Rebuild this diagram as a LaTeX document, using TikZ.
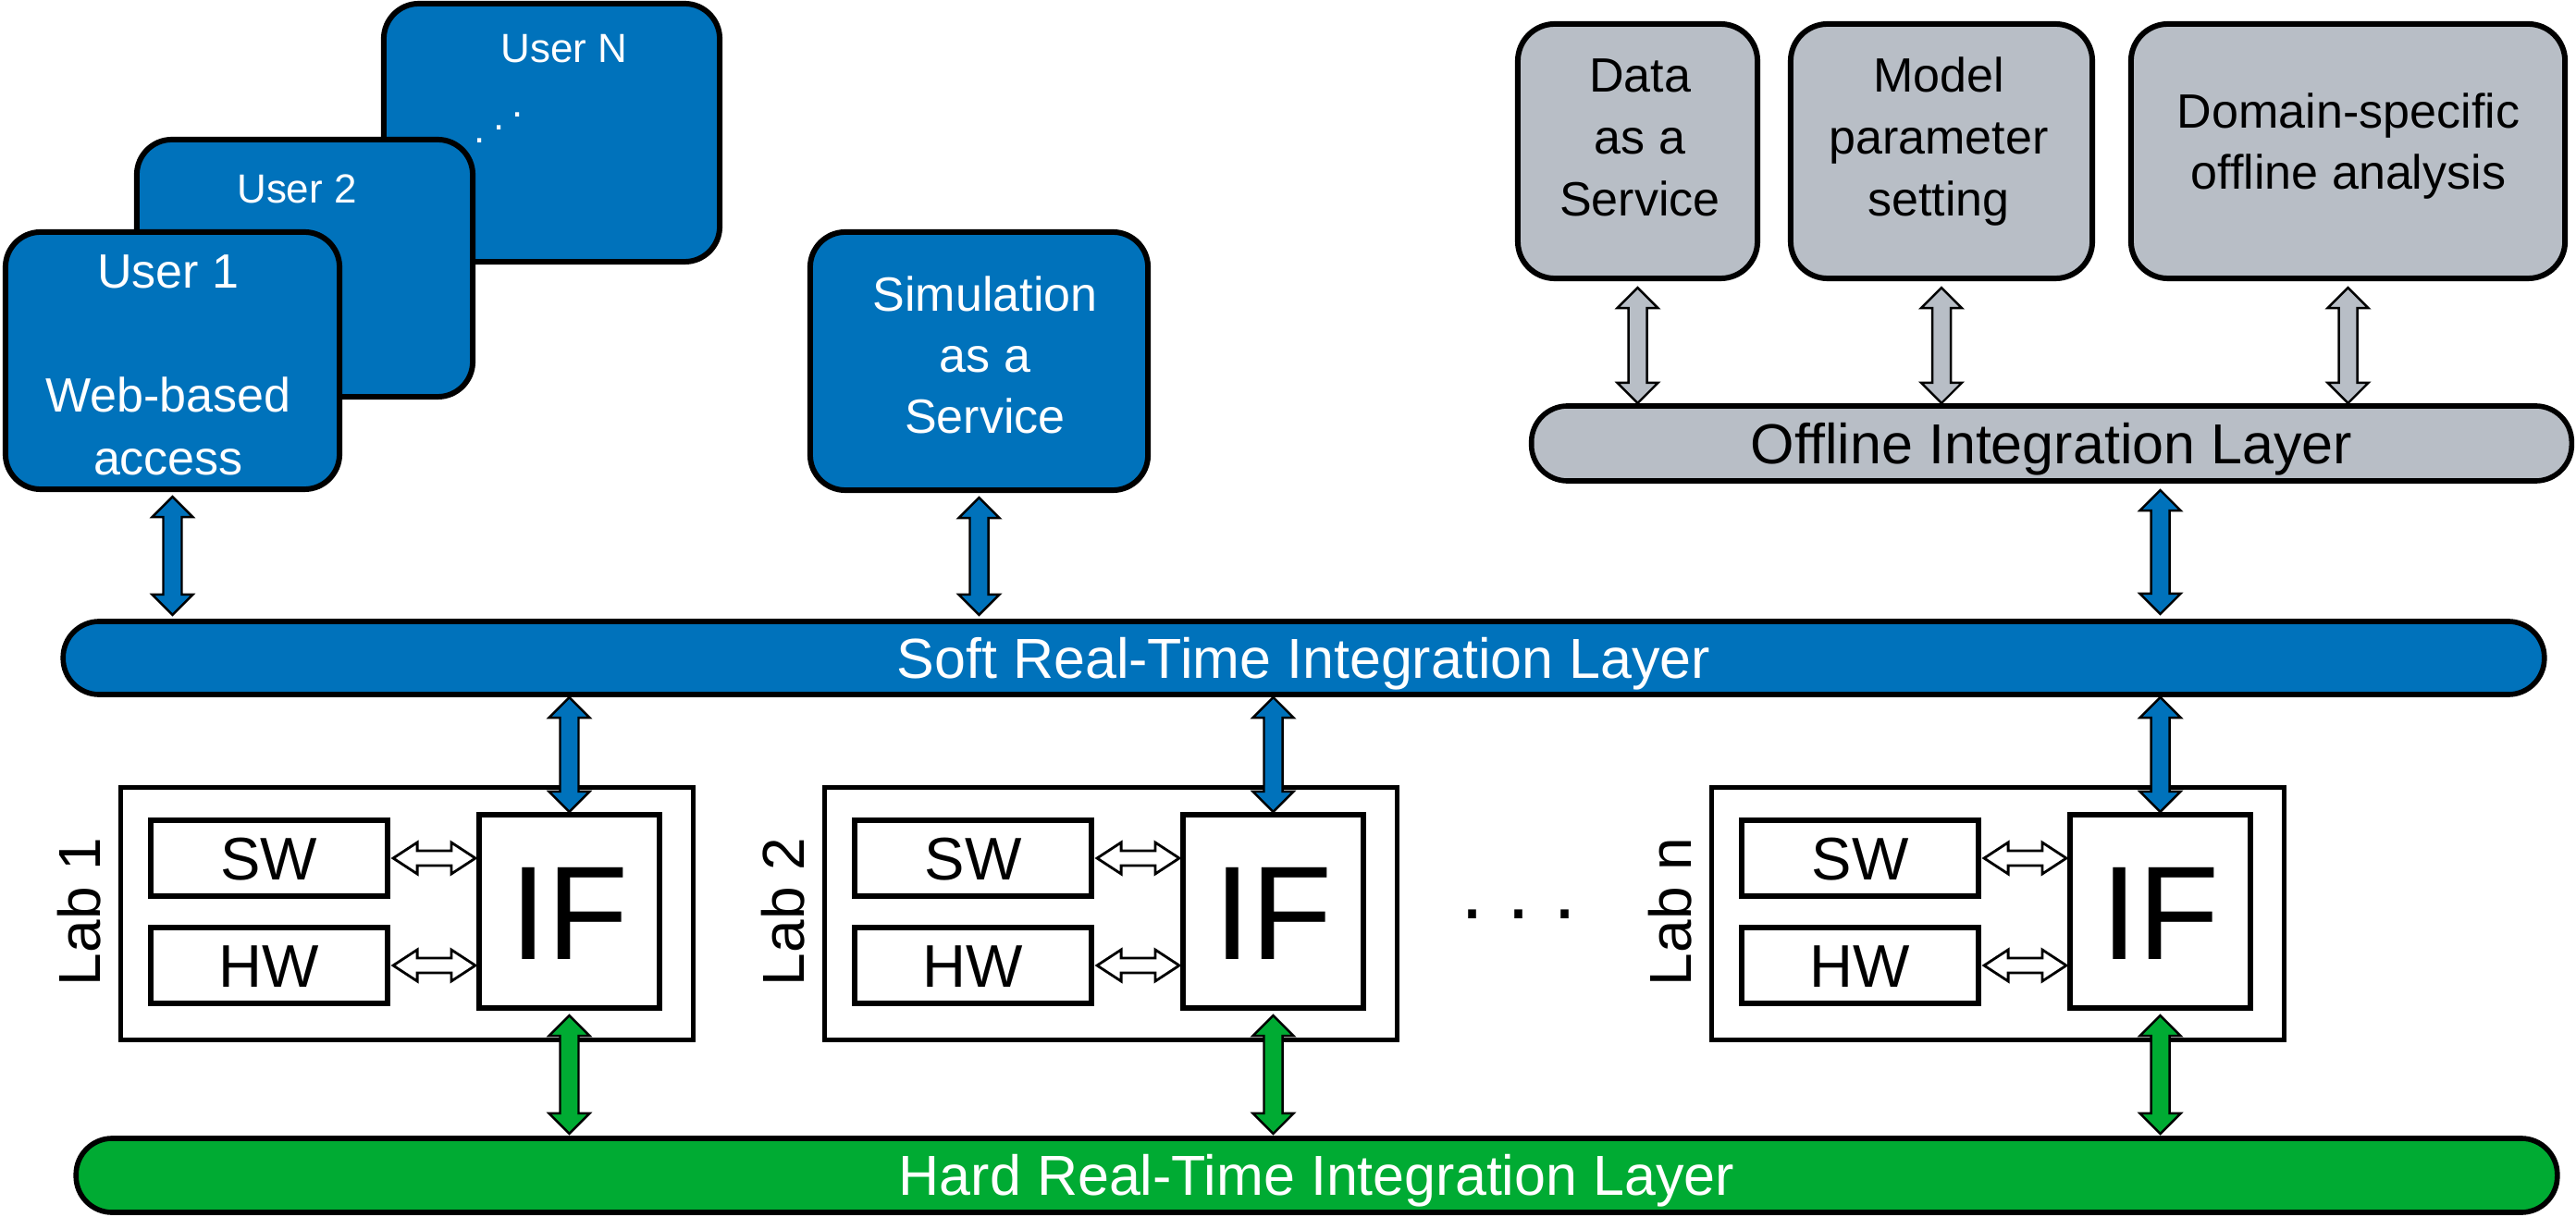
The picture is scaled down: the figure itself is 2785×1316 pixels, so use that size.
\documentclass[tikz,border=0pt]{standalone}
\usepackage{fontspec}
\setmainfont{Liberation Sans}
\usetikzlibrary{calc}
\definecolor{bblue}{RGB}{0,114,187}
\definecolor{ggreen}{RGB}{0,171,51}
\definecolor{ggray}{RGB}{184,190,198}

% vertical double arrow between two points (x taken from the first)
\newcommand\varrow[3]{%
 \draw[#1] let \p1=#2, \p2=#3 in (\x1,\y1) -- ++(0.22cm,-0.22cm) -- ++(-0.12cm,0cm)
   -- (\x1+0.1cm,\y2+0.22cm) -- ++(0.12cm,0cm) -- (\x1,\y2) -- ++(-0.22cm,0.22cm)
   -- ++(0.12cm,0cm) -- (\x1-0.1cm,\y1-0.22cm) -- ++(-0.12cm,0cm) -- cycle;}
% horizontal double arrow between two points (y taken from the first)
\newcommand\harrow[3]{%
 \draw[#1] let \p1=#2, \p2=#3 in (\x1,\y1) -- ++(0.26cm,0.17cm) -- ++(0cm,-0.09cm)
   -- (\x2-0.26cm,\y1+0.08cm) -- ++(0cm,0.09cm) -- (\x2,\y1) -- ++(-0.26cm,-0.17cm)
   -- ++(0cm,0.09cm) -- (\x1+0.26cm,\y1-0.08cm) -- ++(0cm,-0.09cm) -- cycle;}

\tikzset{
 bbox/.style={draw, line width=1.7pt, fill=bblue, rounded corners=0.38cm, inner sep=0pt, outer sep=0pt},
 gbox/.style={draw, line width=1.7pt, fill=ggray, rounded corners=0.4cm, inner sep=0pt, outer sep=0pt},
 layer/.style={draw, line width=1.6pt, rounded corners=0.39cm, inner sep=0pt, outer sep=0pt,
   font=\fontsize{17.35}{20}\selectfont, text height=0.437cm, text depth=0pt},
 labbox/.style={draw, line width=1.45pt, fill=white, inner sep=0pt, outer sep=0pt},
 subbox/.style={draw, line width=1.6pt, fill=white, inner sep=0pt, outer sep=0pt,
   font=\fontsize{18.5}{22}\selectfont, text height=0.465cm, text depth=0pt},
 ifbox/.style={subbox, font=\fontsize{41}{48}\selectfont, text height=1.03cm},
 lablabel/.style={rotate=90, inner sep=0pt, font=\fontsize{18.2}{22}\selectfont, text height=0.458cm, text depth=0pt},
 wtxt/.style={text=white, inner sep=0pt, anchor=base},
 ktxt/.style={text=black, inner sep=0pt, anchor=base},
 f44/.style={font=\fontsize{12.5}{15}\selectfont},
 f52/.style={font=\fontsize{14.8}{18}\selectfont},
 wdot/.style={text=white, inner sep=0pt, font=\fontsize{12.5}{15}\selectfont},
 barrow/.style={fill=bblue, draw=black, line width=0.7pt},
 garrow/.style={fill=ggreen, draw=black, line width=0.7pt},
 grarrow/.style={fill=ggray, draw=black, line width=0.7pt},
 warrow/.style={fill=white, draw=black, line width=0.8pt},
}

\newcommand\labunit[3]{%
 \node[labbox, minimum width=6.18cm, minimum height=2.72cm] (#1box) at (#2+440,988) {};
 \node[subbox, minimum width=2.56cm, minimum height=0.82cm] (#1sw) at (#2+291,928) {SW};
 \node[subbox, minimum width=2.56cm, minimum height=0.82cm] (#1hw) at (#2+291,1044) {HW};
 \node[ifbox, minimum width=1.95cm, minimum height=2.09cm] (#1if) at (#2+615.5,985.5) {IF};
 \node[lablabel] (#1lab) at (#2+86,986) {#3};
}

\begin{document}
\begin{tikzpicture}[x=0.01cm, y=-0.01cm]
\useasboundingbox (0,0) rectangle (2785,1316);

% users
\node[bbox, minimum width=3.63cm, minimum height=2.79cm] (userN) at (596.5,143.5) {};
\node[wtxt,f44] (tuN) at (610,68) {User N};
\node[wdot] (ud1) at (519,152) {.};
\node[wdot] (ud2) at (540,138) {.};
\node[wdot] (ud3) at (560,124) {.};
\node[bbox, minimum width=3.63cm, minimum height=2.78cm] (user2) at (329.5,290) {};
\node[wtxt,f44] (tu2) at (321,220) {User 2};
\node[bbox, minimum width=3.61cm, minimum height=2.78cm] (user1) at (186.5,390) {};
\node[wtxt,f52] (tu1a) at (182,312) {User 1};
\node[wtxt,f52] (tu1b) at (182,446) {Web-based};
\node[wtxt,f52] (tu1c) at (182,514) {access};

% simulation
\node[bbox, minimum width=3.65cm, minimum height=2.79cm] (sim) at (1058.5,390.5) {};
\node[wtxt,f52] (tsa) at (1065,337) {Simulation};
\node[wtxt,f52] (tsb) at (1065,403) {as a};
\node[wtxt,f52] (tsc) at (1065,469) {Service};

% offline services
\node[gbox, minimum width=2.59cm, minimum height=2.75cm] (data) at (1770.5,163.5) {};
\node[ktxt,f52] (tda) at (1773,100) {Data};
\node[ktxt,f52] (tdb) at (1773,167) {as a};
\node[ktxt,f52] (tdc) at (1773,234) {Service};
\node[gbox, minimum width=3.26cm, minimum height=2.75cm] (model) at (2099,163.5) {};
\node[ktxt,f52] (tma) at (2096,100) {Model};
\node[ktxt,f52] (tmb) at (2096,167) {parameter};
\node[ktxt,f52] (tmc) at (2096,234) {setting};
\node[gbox, minimum width=4.69cm, minimum height=2.75cm] (domain) at (2538.5,163.5) {};
\node[ktxt,f52] (toa) at (2539,139) {Domain-specific};
\node[ktxt,f52] (tob) at (2539,205) {offline analysis};

% layers
\node[layer, fill=ggray, minimum width=11.24cm, minimum height=0.81cm] (offline) at (2218,479.5) {Offline Integration Layer};
\node[layer, fill=bblue, text=white, minimum width=26.81cm, minimum height=0.79cm] (soft) at (1409.5,711.5) {Soft Real-Time Integration Layer};
\node[layer, fill=ggreen, text=white, minimum width=26.81cm, minimum height=0.80cm] (hard) at (1423.5,1271) {Hard Real-Time Integration Layer};

% labs
\labunit{a}{0}{Lab 1}
\labunit{b}{761}{Lab 2}
\labunit{n}{1720}{Lab n}
\node[ktxt, font=\fontsize{25.6}{30}\selectfont] (ldots) at (1642,993) {.\ .\ .};

% gray arrows
\varrow{grarrow}{($(data.south)+(0cm,-0.1cm)$)}{($(data.south |- offline.north)+(0cm,0.03cm)$)}
\varrow{grarrow}{($(model.south)+(0cm,-0.1cm)$)}{($(model.south |- offline.north)+(0cm,0.03cm)$)}
\varrow{grarrow}{($(domain.south)+(0cm,-0.1cm)$)}{($(domain.south |- offline.north)+(0cm,0.03cm)$)}

% blue arrows to soft layer
\varrow{barrow}{($(user1.south)+(0cm,-0.08cm)$)}{($(user1.south |- soft.north)+(0cm,0.07cm)$)}
\varrow{barrow}{($(sim.south)+(0cm,-0.08cm)$)}{($(sim.south |- soft.north)+(0cm,0.07cm)$)}
\varrow{barrow}{($(offline.south -| nif.north)+(0cm,-0.1cm)$)}{($(nif.north |- soft.north)+(0cm,0.08cm)$)}

% lab connections
\foreach \l in {a,b,n}{
 \varrow{barrow}{($(\l if.north |- soft.south)+(0cm,-0.03cm)$)}{($(\l if.north)+(0cm,0.03cm)$)}
 \varrow{garrow}{($(\l if.south)+(0cm,-0.08cm)$)}{($(\l if.south |- hard.north)+(0cm,0.05cm)$)}
 \harrow{warrow}{($(\l sw.east)+(0.06cm,0cm)$)}{($(\l if.west |- \l sw.east)+(-0.04cm,0cm)$)}
 \harrow{warrow}{($(\l hw.east)+(0.06cm,0cm)$)}{($(\l if.west |- \l hw.east)+(-0.04cm,0cm)$)}
}
\end{tikzpicture}
\end{document}
